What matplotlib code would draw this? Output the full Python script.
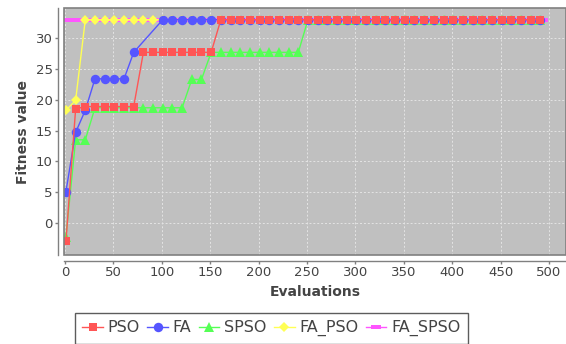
## Convergence chart: fitness value against evaluations
import matplotlib.pyplot as plt
from matplotlib.path import Path
from matplotlib.patches import Rectangle

# Evaluation counts (x values) for each series
evals = [1, 11, 21, 31, 41, 51, 61, 71, 81, 91,
         101, 111, 121, 131, 141, 151, 161, 171, 181, 191,
         201, 211, 221, 231, 241, 251, 261, 271, 281, 291,
         301, 311, 321, 331, 341, 351, 361, 371, 381, 391,
         401, 411, 421, 431, 441, 451, 461, 471, 481, 491]
fa_evals = [1, 11, 21, 31, 41, 51, 61, 71,
            101, 111, 121, 131, 141, 151, 161, 171, 181, 191,
            201, 211, 221, 231, 241, 251, 261, 271, 281, 291,
            301, 311, 321, 331, 341, 351, 361, 371, 381, 391,
            401, 411, 421, 431, 441, 451, 461, 471, 481, 491]
fa_spso_evals = [4, 14, 24, 34, 44, 54, 64, 74, 84, 94,
                 104, 114, 124, 134, 144, 154, 164, 174, 184, 194,
                 204, 214, 224, 234, 244, 254, 264, 274, 284, 294,
                 304, 314, 324, 334, 344, 354, 364, 374, 384, 394,
                 404, 414, 424, 434, 444, 454, 464, 474, 484, 494]

# Fitness values
pso = [-3.0, 18.5, 18.9, 18.9, 18.9, 18.9, 18.9, 18.9, 27.7, 27.7,
       27.7, 27.7, 27.7, 27.7, 27.7, 27.7, 33, 33, 33, 33,
       33, 33, 33, 33, 33, 33, 33, 33, 33, 33,
       33, 33, 33, 33, 33, 33, 33, 33, 33, 33,
       33, 33, 33, 33, 33, 33, 33, 33, 33, 33]
fa = [5.1, 14.7, 18.3, 23.4, 23.4, 23.4, 23.4, 27.7,
      33, 33, 33, 33, 33, 33, 33, 33, 33, 33,
      33, 33, 33, 33, 33, 33, 33, 33, 33, 33,
      33, 33, 33, 33, 33, 33, 33, 33, 33, 33,
      33, 33, 33, 33, 33, 33, 33, 33, 33, 33]
spso = [-2.2, 13.5, 13.5, 18.7, 18.7, 18.7, 18.7, 18.7, 18.7, 18.7,
        18.7, 18.7, 18.7, 23.3, 23.3, 27.7, 27.7, 27.7, 27.7, 27.7,
        27.7, 27.7, 27.7, 27.7, 27.7, 33, 33, 33, 33, 33,
        33, 33, 33, 33, 33, 33, 33, 33, 33, 33,
        33, 33, 33, 33, 33, 33, 33, 33, 33, 33]
fa_pso = [18.3, 19.9, 33, 33, 33, 33, 33, 33, 33, 33,
          33, 33, 33, 33, 33, 33, 33, 33, 33, 33,
          33, 33, 33, 33, 33, 33, 33, 33, 33, 33,
          33, 33, 33, 33, 33, 33, 33, 33, 33, 33,
          33, 33, 33, 33, 33, 33, 33, 33, 33, 33]
fa_spso = [33, 33, 33, 33, 33, 33, 33, 33, 33, 33,
           33, 33, 33, 33, 33, 33, 33, 33, 33, 33,
           33, 33, 33, 33, 33, 33, 33, 33, 33, 33,
           33, 33, 33, 33, 33, 33, 33, 33, 33, 33,
           33, 33, 33, 33, 33, 33, 33, 33, 33, 33]

x_ticks = [0, 50, 100, 150, 200, 250, 300, 350, 400, 450, 500]
y_ticks = [0, 5, 10, 15, 20, 25, 30]

# flat rectangle marker for the fifth series
hrect = Path([(-1, -0.45), (1, -0.45), (1, 0.45), (-1, 0.45), (-1, -0.45)],
             [Path.MOVETO, Path.LINETO, Path.LINETO, Path.LINETO, Path.CLOSEPOLY])

fig = plt.figure(figsize=(5.66, 3.44), dpi=100)
ax = fig.add_axes([64 / 566, 89 / 344, 502 / 566, 247 / 344])
ax.set_facecolor('#c0c0c0')

# first series is drawn on top, like the original
series = [
    (evals, pso, 'PSO', '#ff5555', 's', 6.0),
    (fa_evals, fa, 'FA', '#5555ff', 'o', 6.8),
    (evals, spso, 'SPSO', '#55ff55', '^', 6.8),
    (evals, fa_pso, 'FA_PSO', '#ffff55', 'D', 5.3),
    (fa_spso_evals, fa_spso, 'FA_SPSO', '#ff55ff', hrect, 6.5),
]
for i, (x, y, name, col, mk, ms) in enumerate(series):
    ax.plot(x, y, color=col, marker=mk, markersize=ms, markeredgewidth=0,
            linewidth=1.0, label=name, zorder=10 - i)

ax.set_xlim(-1, 517.5)
ax.set_ylim(-5.2, 34.9)
ax.set_xticks(x_ticks)
ax.set_yticks(y_ticks)
ax.grid(True, color='#e4e4e4', linestyle=(0, (2, 2)), linewidth=0.7)
ax.set_axisbelow(True)

for side in ['top', 'right']:
    ax.spines[side].set_visible(False)
for side in ['left', 'bottom']:
    ax.spines[side].set_position(('outward', 4))
    ax.spines[side].set_color('#808080')
    ax.spines[side].set_linewidth(1.0)
ax.add_patch(Rectangle((0, 0), 1, 1, transform=ax.transAxes, fill=False,
                       edgecolor='#808080', linewidth=1.2, zorder=20, clip_on=False))

ax.tick_params(colors='#808080', labelcolor='#444444', labelsize=9.5,
               length=2, width=1, pad=2)
ax.set_xlabel('Evaluations', fontsize=10, fontweight='bold', color='#444444', labelpad=4)
ax.set_ylabel('Fitness value', fontsize=10, fontweight='bold', color='#444444', labelpad=4)

leg = fig.legend(loc='upper left', bbox_to_anchor=(75 / 566, 1 - 313 / 344),
                 ncol=5, fontsize=11.5, frameon=True, fancybox=False,
                 handlelength=1.3, handletextpad=0.3, columnspacing=0.45,
                 borderpad=0.45, borderaxespad=0)
leg.get_frame().set_edgecolor('#333333')
leg.get_frame().set_linewidth(1.0)
for t in leg.get_texts():
    t.set_color('#444444')

fig.savefig('out.png', dpi=100)
